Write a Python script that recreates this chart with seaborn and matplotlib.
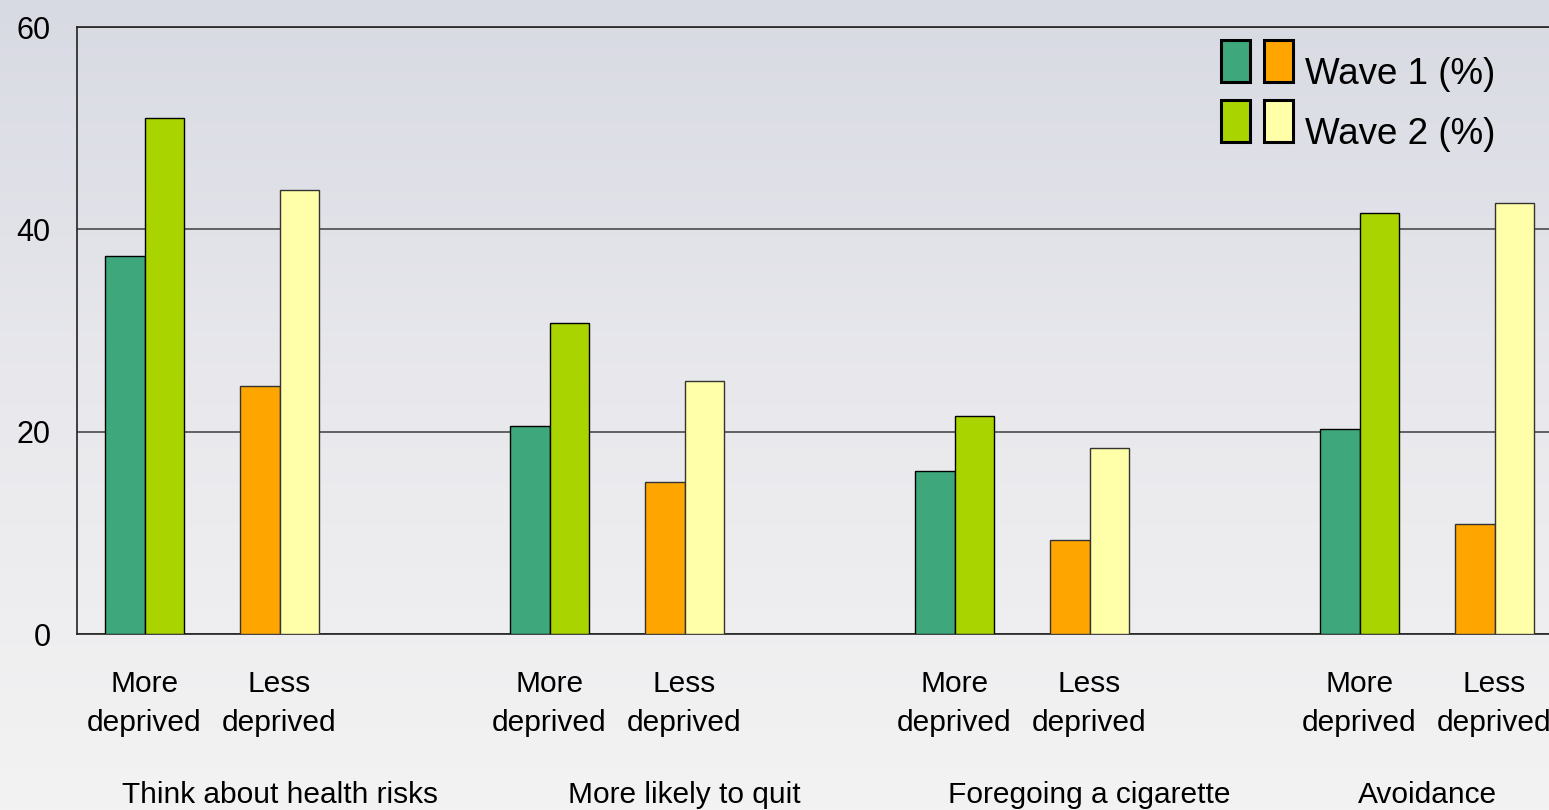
import numpy as np
import pandas as pd
import matplotlib
matplotlib.use("Agg")
import matplotlib.pyplot as plt
import seaborn as sns
from matplotlib.patches import Rectangle

# Data (percent)
measures = ["Think about health risks", "More likely to quit", "Foregoing a cigarette", "Avoidance"]
more_wave1 = [37.4, 20.6, 16.1, 20.3]
more_wave2 = [51.0, 30.7, 21.5, 41.6]
less_wave1 = [24.5, 15.0, 9.3, 10.9]
less_wave2 = [43.9, 25.0, 18.4, 42.6]
waves = ["Wave 1 (%)", "Wave 2 (%)"]
level_labels = ["More\ndeprived", "Less\ndeprived"]

# Colours
more_colors = ["#3EA87C", "#AAD400"]
less_colors = ["#FFA500", "#FFFFAA"]

# Slot layout: More, Less, (blank) per measure, last group without blank
slots = []
for i, m in enumerate(measures):
    slots += [m + "|More", m + "|Less"]
    if i < len(measures) - 1:
        slots.append("blank" + str(i))

rows = []
for i, m in enumerate(measures):
    rows.append([m + "|More", "More", waves[0], more_wave1[i]])
    rows.append([m + "|More", "More", waves[1], more_wave2[i]])
    rows.append([m + "|Less", "Less", waves[0], less_wave1[i]])
    rows.append([m + "|Less", "Less", waves[1], less_wave2[i]])
df = pd.DataFrame(rows, columns=["slot", "level", "wave", "value"])

sns.set_theme(style="white")
plt.rcParams["font.family"] = ["Liberation Sans", "DejaVu Sans"]
plt.rcParams["text.color"] = "black"
plt.rcParams["xtick.color"] = "black"
plt.rcParams["ytick.color"] = "black"

fig = plt.figure(figsize=(15.49, 8.1), dpi=100)

# background gradient
bg = fig.add_axes([0, 0, 1, 1], zorder=-10)
grad = np.linspace(0, 1, 256).reshape(-1, 1)
cmap = matplotlib.colors.LinearSegmentedColormap.from_list("bg", ["#D8DAE3", "#E9E9ED", "#F3F3F3"])
bg.imshow(grad, aspect="auto", cmap=cmap, extent=[0, 1, 0, 1])
bg.axis("off")

ax = fig.add_axes([77 / 1549, 176 / 810, (1562 - 77) / 1549, 607 / 810])
ax.set_facecolor("none")

sns.barplot(data=df[df.level == "More"], x="slot", y="value", hue="wave", order=slots,
            hue_order=waves, palette=more_colors, saturation=1, width=0.578, gap=0,
            edgecolor="black", linewidth=1, ax=ax, legend=False, zorder=3)
sns.barplot(data=df[df.level == "Less"], x="slot", y="value", hue="wave", order=slots,
            hue_order=waves, palette=less_colors, saturation=1, width=0.578, gap=0,
            edgecolor="#333333", linewidth=1, ax=ax, legend=False, zorder=3)

ax.set_xlim(-0.5, len(slots) - 0.5)
ax.set_ylim(0, 60)
ax.set_yticks([0, 20, 40, 60])
ax.yaxis.grid(True, color="#4a4a4a", linewidth=1.2, zorder=0)
ax.set_axisbelow(True)

tick_pos = [i for i, s in enumerate(slots) if "|" in s]
tick_lab = [level_labels[0] if s.endswith("More") else level_labels[1] for s in slots if "|" in s]
ax.set_xticks(tick_pos)
ax.set_xticklabels(tick_lab, fontsize=21.5, linespacing=1.5)
ax.tick_params(axis="x", length=0, pad=26)
ax.tick_params(axis="y", length=7, width=1, color="#444444", direction="out", pad=12, labelsize=22)
ax.set_xlabel("")
ax.set_ylabel("")

for side in ["left", "bottom", "top"]:
    ax.spines[side].set_visible(True)
    ax.spines[side].set_color("#222222")
    ax.spines[side].set_linewidth(1.2)
ax.spines["right"].set_visible(False)

# measure labels under each pair
for i, m in enumerate(measures):
    center = (slots.index(m + "|More") + slots.index(m + "|Less")) / 2
    if i < len(measures) - 1:
        center = slots.index(m + "|Less")
    ax.text(center, -0.266, m, transform=ax.get_xaxis_transform(), ha="center", va="center",
            fontsize=21.5, color="black")

# legend: two swatches per wave, placed in figure pixels
W, H = 1549, 810
legend_rows = [(waves[0], more_colors[0], less_colors[0], 40),
               (waves[1], more_colors[1], less_colors[1], 100)]
for label, c1, c2, top in legend_rows:
    for x0, c in [(1221, c1), (1264, c2)]:
        fig.add_artist(Rectangle((x0 / W, 1 - (top + 42) / H), 29 / W, 42 / H,
                                 transform=fig.transFigure, facecolor=c,
                                 edgecolor="black", linewidth=2.2))
    fig.text(1305 / W, 1 - (top + 35) / H, label, fontsize=26.5, ha="left", va="center",
             color="black")

fig.savefig("out.png", dpi=100)
